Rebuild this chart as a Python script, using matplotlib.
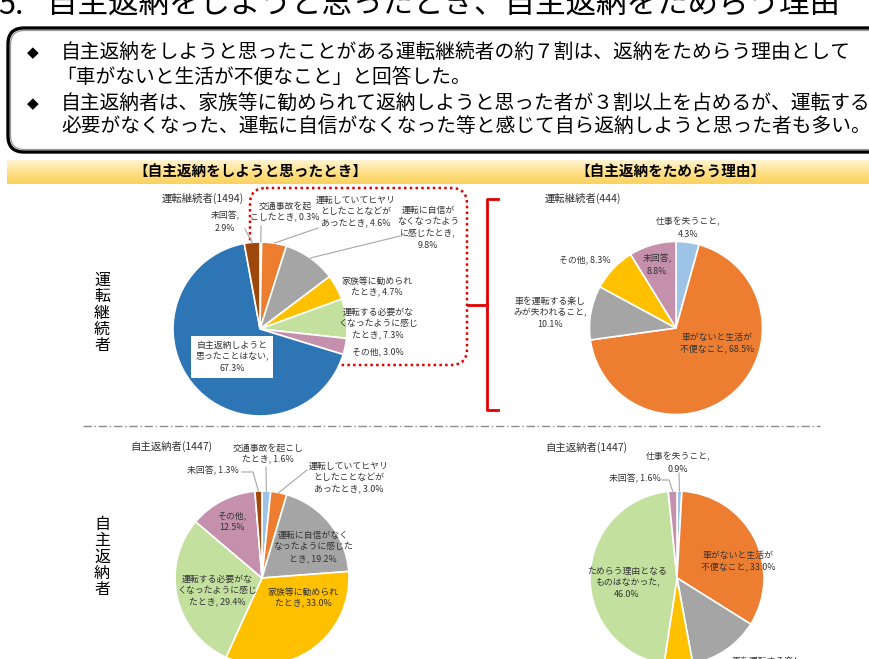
import numpy as np
import matplotlib
matplotlib.use('Agg')
import matplotlib.pyplot as plt
from matplotlib.patches import FancyBboxPatch
from matplotlib.colors import LinearSegmentedColormap

plt.rcParams['font.family'] = ['Noto Sans CJK JP', 'DejaVu Sans']

# ---------------- data ----------------
title_num = "5."
title_text = "自主返納をしようと思ったとき、自主返納をためらう理由"
summary_lines = [
    "自主返納をしようと思ったことがある運転継続者の約７割は、返納をためらう理由として",
    "「車がないと生活が不便なこと」と回答した。",
    "自主返納者は、家族等に勧められて返納しようと思った者が３割以上を占めるが、運転する",
    "必要がなくなった、運転に自信がなくなった等と感じて自ら返納しようと思った者も多い。",
]
section_left = "【自主返納をしようと思ったとき】"
section_right = "【自主返納をためらう理由】"
row_labels = ["運転継続者", "自主返納者"]

# pie 1: 運転継続者 - 自主返納をしようと思ったとき
title1 = "運転継続者(1494)"
labels1 = ["交通事故を起\nこしたとき", "運転していてヒヤリ\nとしたことなどが\nあったとき",
           "運転に自信が\nなくなったよう\nに感じたとき", "家族等に勧められ\nたとき",
           "運転する必要がな\nくなったように感じ\nたとき", "その他",
           "自主返納しようと\n思ったことはない", "未回答"]
values1 = [0.3, 4.6, 9.8, 4.7, 7.3, 3.0, 67.3, 2.9]
seps1 = [", ", ", ", ",\n", ", ", ", ", ", ", ",\n", ",\n"]

# pie 2: 運転継続者 - ためらう理由
title2 = "運転継続者(444)"
labels2 = ["仕事を失うこと", "車がないと生活が\n不便なこと", "車を運転する楽し\nみが失われること",
           "その他", "未回答"]
values2 = [4.3, 68.5, 10.1, 8.3, 8.8]
seps2 = [",\n", ", ", ",\n", ", ", ",\n"]

# pie 3: 自主返納者 - 自主返納をしようと思ったとき
title3 = "自主返納者(1447)"
labels3 = ["交通事故を起こし\nたとき", "運転していてヒヤリ\nとしたことなどが\nあったとき",
           "運転に自信がなく\nなったように感じた\nとき", "家族等に勧められ\nたとき",
           "運転する必要がな\nくなったように感じ\nたとき", "その他", "未回答"]
values3 = [1.6, 3.0, 19.2, 33.0, 29.4, 12.5, 1.3]
seps3 = [", ", ", ", ", ", ", ", ", ", ",\n", ", "]

# pie 4: 自主返納者 - ためらう理由
title4 = "自主返納者(1447)"
labels4 = ["仕事を失うこと", "車がないと生活が\n不便なこと", "車を運転する楽し\nみが失われること",
           "その他", "ためらう理由となる\nものはなかった", "未回答"]
values4 = [0.9, 33.0, 13.2, 5.3, 46.0, 1.6]
seps4 = [",\n", ", ", ",\n", ", ", ",\n", ", "]

# ---------------- styles ----------------
BLUE = '#2E75B6'; BROWN = '#9E480E'; ORANGE = '#ED7D31'; GRAY = '#A5A5A5'
YELLOW = '#FFC000'; GREEN = '#C3E09E'; LBLUE = '#9DC3E6'; MAUVE = '#C490AC'
colors1 = [LBLUE, ORANGE, GRAY, YELLOW, GREEN, MAUVE, BLUE, BROWN]
colors2 = [LBLUE, ORANGE, GRAY, YELLOW, MAUVE]
colors3 = [LBLUE, ORANGE, GRAY, YELLOW, GREEN, MAUVE, BROWN]
colors4 = [LBLUE, ORANGE, GRAY, YELLOW, GREEN, MAUVE]
TXT = '#333333'
LEAD = '#A6A6A6'
LABEL_FS = 6.4

W, H = 869, 659
fig = plt.figure(figsize=(W / 100, H / 100), dpi=100)
ax = fig.add_axes([0, 0, 1, 1])
ax.axis('off')

# title (partly cut at top)
ax.text(-2, 14, title_num, fontsize=22, ha='left', va='baseline', color='black')
ax.text(47, 14, title_text, fontsize=22, ha='left', va='baseline', color='black')

# summary box
ax.add_patch(FancyBboxPatch((8, 28), 905, 124, boxstyle='round,pad=0,rounding_size=16',
                            facecolor='white', edgecolor='black', linewidth=2.4, zorder=1))
ax.add_patch(FancyBboxPatch((10.5, 30.5), 905, 119, boxstyle='round,pad=0,rounding_size=14',
                            facecolor='none', edgecolor='#9a9a9a', linewidth=0.9, zorder=1))
line_y = [53, 78, 104, 126]
line_x = [61, 56, 61, 61]
for s, x, y in zip(summary_lines, line_x, line_y):
    ax.text(x, y, s, fontsize=14.2, ha='left', va='center', color='black', zorder=2)
for y in (line_y[0], line_y[2]):
    ax.text(33, y, "◆", fontsize=11, ha='center', va='center', color='black',
            family=['DejaVu Sans'], zorder=2)

# yellow band
cmap = LinearSegmentedColormap.from_list('band', ['#FFF4D2', '#FFE08A', '#FCD15C'])
grad = np.linspace(0, 1, 64).reshape(-1, 1)
ax.imshow(grad, extent=(7, 869, 184, 160), aspect='auto', cmap=cmap, zorder=0)
ax.text(250, 172, section_left, fontsize=10.5, fontweight='bold', ha='center', va='center')
ax.text(670, 172, section_right, fontsize=10.5, fontweight='bold', ha='center', va='center')

# row labels (vertical)
ax.text(102, 313, "\n".join(row_labels[0]), fontsize=11.5, linespacing=0.95,
        ha='center', va='center', color='black')
ax.text(102, 557, "\n".join(row_labels[1]), fontsize=11.5, linespacing=0.95,
        ha='center', va='center', color='black')

# separator
ax.plot([83, 820], [426, 426], color='#8c8c8c', lw=1.0, linestyle=(0, (6, 2, 1, 2)), zorder=1)

# red dotted box and bracket
ax.add_patch(FancyBboxPatch((250, 188), 217, 177, boxstyle='round,pad=0,rounding_size=16',
                            facecolor='none', edgecolor='#E00000', linewidth=1.8,
                            linestyle=(0, (1, 1.3)), zorder=1))
ax.plot([498, 487, 487, 498], [199, 199, 410, 410], color='#E00000', lw=2.0, zorder=1,
        solid_joinstyle='round')
ax.plot([487, 468], [305, 305], color='#E00000', lw=2.0, zorder=1)


def draw_pie(values, colors, center, radius, labels, seps, positions, leaders,
             title, title_xy, boxed=()):
    total = float(sum(values))
    ax.pie(values, colors=colors, startangle=-90, counterclock=True, center=center,
           radius=radius, frame=True,
           wedgeprops=dict(edgecolor='white', linewidth=1.2, zorder=3))
    vals = np.array(values, dtype=float)
    mids = (np.cumsum(vals) - vals / 2) / total
    cx, cy = center
    for i, (lab, sep, v, pos) in enumerate(zip(labels, seps, values, positions)):
        kw = {}
        if i in boxed:
            kw['bbox'] = dict(facecolor='white', edgecolor='none', pad=3)
        ax.text(pos[0], pos[1], f"{lab}{sep}{v:.1f}%", fontsize=LABEL_FS, linespacing=1.4,
                ha='center', va='center', color=TXT, zorder=6, **kw)
        if i in leaders:
            phi = 2 * np.pi * mids[i]
            px = cx + radius * np.sin(phi)
            py = cy - radius * np.cos(phi)
            pts = leaders[i] + [(px, py)]
            ax.plot([p[0] for p in pts], [p[1] for p in pts], color=LEAD, lw=0.8, zorder=4)
    ax.text(title_xy[0], title_xy[1], title, fontsize=7.5, ha='left', va='center', color=TXT)


draw_pie(values1, colors1, (260, 329), 87, labels1, seps1,
         [(285, 212), (356, 212), (428, 228), (377, 287), (378, 324), (378, 352),
          (232, 357), (225, 222)],
         {0: [(261, 226)], 1: [(318, 228)], 2: [(400, 236)], 7: [(245, 229)]},
         title1, (162, 198), boxed=(6,))

draw_pie(values2, colors2, (676, 328), 86.5, labels2, seps2,
         [(688, 228), (717, 344), (550, 313), (585, 260), (657, 265)],
         {}, title2, (545, 198))

draw_pie(values3, colors3, (262, 578), 87, labels3, seps3,
         [(268, 454), (349, 478), (313, 547), (303, 598), (217, 591), (232, 522), (213, 471)],
         {0: [(266, 467)], 1: [(307, 470)], 6: [(242, 472), (253, 472)]},
         title3, (130, 446))

draw_pie(values4, colors4, (677, 578), 87, labels4, seps4,
         [(678, 463), (738, 562), (767, 673), (690, 705), (627, 583), (635, 479)],
         {0: [(679, 473)], 5: [(661, 480), (669, 480)]},
         title4, (545, 447))

ax.set_xlim(0, W)
ax.set_ylim(H, 0)
ax.set_aspect('auto')

fig.savefig('out.png', dpi=100, facecolor='white')
